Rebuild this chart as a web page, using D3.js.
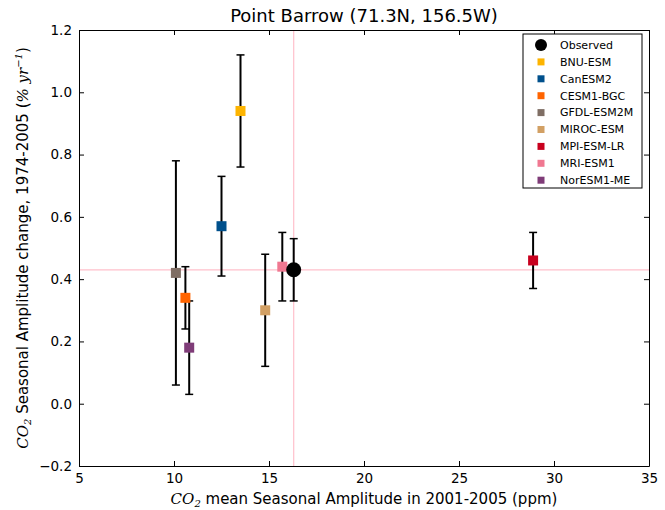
<!DOCTYPE html>
<html>
<head>
<meta charset="utf-8">
<script src="https://cdn.jsdelivr.net/npm/d3@7"></script>
<style>
body { margin: 0; background: #fff; }
text { font-family: "DejaVu Sans", sans-serif; }
</style>
</head>
<body>
<script>
// data
var models = ["BNU-ESM", "CanESM2", "CESM1-BGC", "GFDL-ESM2M", "MIROC-ESM", "MPI-ESM-LR", "MRI-ESM1", "NorESM1-ME"];
var colors = ["#fdb400", "#00508c", "#ff6400", "#7f6e64", "#d2a064", "#c8001e", "#f07891", "#7f3c78"];
var amp    = [13.5, 12.5, 10.6, 10.1, 14.8, 28.9, 15.7, 10.8];
var change = [0.94, 0.57, 0.34, 0.42, 0.30, 0.46, 0.44, 0.18];
var errLo  = [0.76, 0.41, 0.24, 0.06, 0.12, 0.37, 0.33, 0.03];
var errHi  = [1.12, 0.73, 0.44, 0.78, 0.48, 0.55, 0.55, 0.33];

var obsAmp = 16.3, obsChange = 0.43, obsLo = 0.33, obsHi = 0.53;

var xTicks = [5, 10, 15, 20, 25, 30, 35];
var yTicks = [-0.2, 0.0, 0.2, 0.4, 0.6, 0.8, 1.0, 1.2];

var W = 665, H = 510;
var pLeft = 79, pRight = 649, pTop = 30, pBottom = 466;

var svg = d3.select("body").append("svg")
  .attr("width", W)
  .attr("height", H);

var x = d3.scaleLinear().domain([5, 35]).range([pLeft, pRight]);
var y = d3.scaleLinear().domain([-0.2, 1.2]).range([pBottom, pTop]);

// pink reference lines at the observed point
svg.append("line")
  .attr("x1", pLeft).attr("x2", pRight)
  .attr("y1", y(obsChange)).attr("y2", y(obsChange))
  .attr("stroke", "#ffc0cb").attr("stroke-width", 1.2);
svg.append("line")
  .attr("x1", x(obsAmp)).attr("x2", x(obsAmp))
  .attr("y1", pTop).attr("y2", pBottom)
  .attr("stroke", "#ffc0cb").attr("stroke-width", 1.2);

// axes, ticks inside on all sides
function fmtY(d) { return d < 0 ? "\u2212" + Math.abs(d).toFixed(1) : d.toFixed(1); }

svg.append("g")
  .attr("transform", "translate(0," + pBottom + ")")
  .call(d3.axisBottom(x).tickValues(xTicks).tickSizeInner(-5).tickSizeOuter(0).tickPadding(7).tickFormat(d3.format("d")));
svg.append("g")
  .attr("transform", "translate(0," + pTop + ")")
  .call(d3.axisTop(x).tickValues(xTicks).tickSizeInner(-5).tickSizeOuter(0).tickFormat(""));
svg.append("g")
  .attr("transform", "translate(" + pLeft + ",0)")
  .call(d3.axisLeft(y).tickValues(yTicks).tickSizeInner(-5).tickSizeOuter(0).tickPadding(7).tickFormat(fmtY));
svg.append("g")
  .attr("transform", "translate(" + pRight + ",0)")
  .call(d3.axisRight(y).tickValues(yTicks).tickSizeInner(-5).tickSizeOuter(0).tickFormat(""));

svg.selectAll(".domain").attr("stroke", "#000").attr("stroke-width", 1);
svg.selectAll(".tick line").attr("stroke", "#000");
svg.selectAll(".tick text").attr("font-size", 13.5).attr("fill", "#000")
  .attr("font-family", "DejaVu Sans, sans-serif");

// error bars
function errBar(cx, lo, hi) {
  var g = svg.append("g").attr("stroke", "#000").attr("stroke-width", 2);
  g.append("line").attr("x1", x(cx)).attr("x2", x(cx)).attr("y1", y(lo)).attr("y2", y(hi));
  g.append("line").attr("x1", x(cx) - 4).attr("x2", x(cx) + 4).attr("y1", y(lo)).attr("y2", y(lo)).attr("stroke-width", 1.5);
  g.append("line").attr("x1", x(cx) - 4).attr("x2", x(cx) + 4).attr("y1", y(hi)).attr("y2", y(hi)).attr("stroke-width", 1.5);
}

models.forEach(function(m, i) { errBar(amp[i], errLo[i], errHi[i]); });
errBar(obsAmp, obsLo, obsHi);

// model squares
svg.append("g").selectAll("rect")
  .data(models)
  .enter().append("rect")
    .attr("x", function(d, i) { return x(amp[i]) - 5; })
    .attr("y", function(d, i) { return y(change[i]) - 5; })
    .attr("width", 10).attr("height", 10)
    .attr("fill", function(d, i) { return colors[i]; });

// observed
svg.append("circle")
  .attr("cx", x(obsAmp)).attr("cy", y(obsChange)).attr("r", 7.5)
  .attr("fill", "#000");

// title
svg.append("text")
  .attr("x", (pLeft + pRight) / 2).attr("y", 22)
  .attr("text-anchor", "middle").attr("font-size", 18)
  .text("Point Barrow (71.3N, 156.5W)");

// x label
var xl = svg.append("text")
  .attr("x", (pLeft + pRight) / 2).attr("y", 504)
  .attr("text-anchor", "middle").attr("font-size", 15);
xl.append("tspan").attr("font-family", "DejaVu Serif, serif").attr("font-style", "italic").text("CO");
xl.append("tspan").attr("font-family", "DejaVu Serif, serif").attr("font-style", "italic").attr("font-size", 10).attr("dy", 3).text("2");
xl.append("tspan").attr("dy", -3).text(" mean Seasonal Amplitude in 2001-2005 (ppm)");

// y label
var yl = svg.append("text")
  .attr("transform", "translate(28," + ((pTop + pBottom) / 2) + ") rotate(-90)")
  .attr("text-anchor", "middle").attr("font-size", 15);
yl.append("tspan").attr("font-family", "DejaVu Serif, serif").attr("font-style", "italic").text("CO");
yl.append("tspan").attr("font-family", "DejaVu Serif, serif").attr("font-style", "italic").attr("font-size", 10).attr("dy", 3).text("2");
yl.append("tspan").attr("dy", -3).text(" Seasonal Amplitude change, 1974-2005 (");
yl.append("tspan").attr("font-family", "DejaVu Serif, serif").attr("font-style", "italic").text("% yr");
yl.append("tspan").attr("font-family", "DejaVu Serif, serif").attr("font-style", "italic").attr("font-size", 10).attr("dy", -6).text("\u22121");
yl.append("tspan").attr("dy", 6).text(")");

// legend
var lx = 523, ly = 34;
var legNames = ["Observed"].concat(models);
svg.append("rect")
  .attr("x", lx).attr("y", ly).attr("width", 119).attr("height", 154)
  .attr("fill", "#fff").attr("stroke", "#000").attr("stroke-width", 1);

var leg = svg.append("g").selectAll("g")
  .data(legNames)
  .enter().append("g")
    .attr("transform", function(d, i) { return "translate(" + (lx + 18) + "," + (ly + 11 + i * 16.9) + ")"; });

leg.filter(function(d, i) { return i === 0; })
  .append("circle").attr("r", 6).attr("fill", "#000");
leg.filter(function(d, i) { return i > 0; })
  .append("rect").attr("x", -3.5).attr("y", -3.5).attr("width", 7).attr("height", 7)
  .attr("fill", function(d) { return colors[models.indexOf(d)]; });
leg.append("text")
  .attr("x", 19).attr("dy", "0.35em").attr("font-size", 11)
  .text(function(d) { return d; });
</script>
</body>
</html>
